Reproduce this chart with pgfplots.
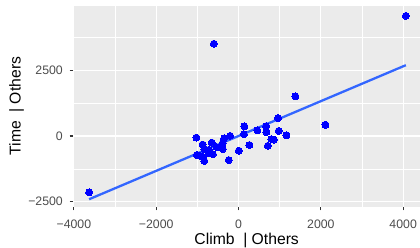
\documentclass[border=0pt]{standalone}
\usepackage{pgfplots}
\pgfplotsset{compat=1.18}
\usepackage{fontspec}
\setmainfont{Liberation Sans}
\definecolor{panelgrey}{HTML}{EBEBEB}
\definecolor{tickgrey}{HTML}{333333}
\definecolor{labgrey}{HTML}{4D4D4D}
\definecolor{fitblue}{HTML}{3366FF}
\definecolor{ptblue}{HTML}{0000FF}
\begin{document}
\begin{tikzpicture}
\path[use as bounding box, fill=white] (0,0) rectangle (420pt,247pt);
\begin{axis}[
  at={(73.3pt,40.3pt)}, anchor=south west,
  scale only axis, width=346.7pt, height=201pt,
  xmin=-4014, xmax=4409, ymin=-2690, ymax=4958,
  axis background/.style={fill=panelgrey},
  axis line style={draw=none},
  xtick={-4000,-2000,0,2000,4000},
  xticklabels={−4000,−2000,0,2000,4000},
  ytick={-2500,0,2500},
  yticklabels={−2500,0,2500},
  minor xtick={-3000,-1000,1000,3000},
  minor ytick={-1250,1250,3750},
  grid=both,
  major grid style={white, line width=1.2pt},
  minor grid style={white, line width=0.6pt},
  tick align=outside, xtick pos=bottom, ytick pos=left,
  major tick length=3.7pt, minor tick length=0pt,
  tick style={tickgrey, line width=1.1pt},
  xticklabel style={anchor=base, inner sep=0pt, yshift=-17.6pt, text=labgrey, font=\fontsize{12.3}{14}\selectfont},
  yticklabel style={anchor=east, inner sep=0pt, xshift=-6.6pt, text=labgrey, font=\fontsize{12.3}{14}\selectfont},
  xlabel={Climb\ \ | Others},
  ylabel={Time\ \ | Others},
  xlabel style={at={(axis description cs:0.5,-0.1856)}, anchor=base, inner sep=0pt, font=\fontsize{15.7}{18}\selectfont},
  ylabel style={at={(axis description cs:-0.1517,0.5)}, anchor=base, inner sep=0pt, font=\fontsize{15.7}{18}\selectfont},
  clip=false,
]
\addplot[ptblue, only marks, mark=*, mark size=3.5pt, mark options={draw=ptblue, fill=ptblue, line width=0pt}] coordinates {
(-203.8,5.9) (977.0,192.5) (-623.0,-689.5) (-1009.8,-722.3) (1164.6,27.8)
(960.6,684.8) (4064.9,4570.2) (-723.0,-526.5) (-531.8,-423.7) (-873.0,-323.5)
(-3629.7,-2144.8) (668.2,374.3) (7.7,-557.9) (-1023.0,-60.5) (263.8,-342.8)
(712.1,-372.8) (-852.7,-802.1) (-599.4,3509.9) (-236.2,-913.7) (-827.4,-504.6)
(-649.4,-252.1) (455.0,215.0) (677.0,149.5) (141.8,366.8) (-349.4,-88.1)
(859.4,-135.8) (-723.0,-642.5) (-381.8,-494.7) (131.4,71.6) (-831.8,-951.7)
(2112.1,427.1) (-923.0,-765.5) (1382.4,1508.5) (-386.2,-272.8) (800.0,-116.2)
};
\addplot[fitblue, line width=2.3pt] coordinates {(-3629.7,-2406.1) (4064.9,2694.6)};
\end{axis}
\end{tikzpicture}
\end{document}
